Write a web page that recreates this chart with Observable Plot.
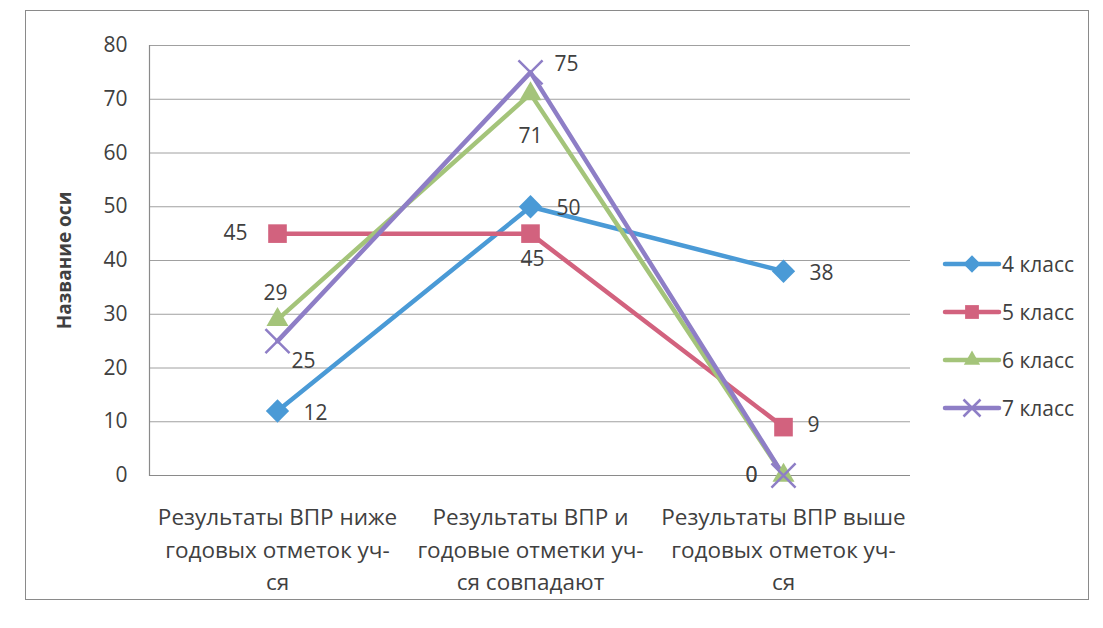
<!DOCTYPE html>
<html><head><meta charset="utf-8">
<script src="https://cdn.jsdelivr.net/npm/d3@7"></script>
<script src="https://cdn.jsdelivr.net/npm/@observablehq/plot@0.6"></script>
<style>
body{margin:0;background:#fff;font-family:"Open Sans",Lato,sans-serif;}
#wrap{position:relative;width:1103px;height:628px;overflow:hidden;}
#frame{position:absolute;left:25px;top:10px;width:1062px;height:588px;border:1.5px solid #8a8a8a;}
#chart{position:absolute;left:0;top:0;}
#legend{position:absolute;left:942px;top:240px;font-size:21px;color:#404040;}
.li{display:flex;align-items:center;height:48px;}
.li svg{margin-right:0px;}
</style></head><body>
<div id="wrap"><div id="frame"></div><div id="chart"></div><div id="legend"></div></div>
<script>
const categories = [
  "Результаты ВПР ниже годовых отметок уч-ся",
  "Результаты ВПР и годовые отметки уч-ся совпадают",
  "Результаты ВПР выше годовых отметок уч-ся"
];
const categoryLines = [
  "Результаты ВПР ниже\nгодовых отметок уч-\nся",
  "Результаты ВПР и\nгодовые отметки уч-\nся совпадают",
  "Результаты ВПР выше\nгодовых отметок уч-\nся"
];
const seriesNames = ["4 класс", "5 класс", "6 класс", "7 класс"];
const values4 = [12, 50, 38];
const values5 = [45, 45, 9];
const values6 = [29, 71, 0];
const values7 = [25, 75, 0];
const yTicks = [0, 10, 20, 30, 40, 50, 60, 70, 80];
const axisTitle = "Название оси";

// styles
const colors = ["#4A9AD6", "#D2627E", "#A4C47A", "#8E7EC6"];
const symbols = ["diamond2", "square", "triangle2", "times"];
const labelOffsets = [
  [[38, 2], [38, 2], [38, 2]],
  [[-42, 0], [2, 26], [30, -2]],
  [[-2, -26], [0, 42], [-32, 0]],
  [[26, 20], [36, -8], [-32, 0]]
];

const allValues = [values4, values5, values6, values7];
const rows = [];
allValues.forEach((vals, s) => vals.forEach((v, i) => rows.push({series: seriesNames[s], cat: categories[i], value: v, s, i})));
const lineMap = new Map(categories.map((c, i) => [c, categoryLines[i]]));
const font = "'Open Sans', Lato, sans-serif";

const labelMarks = rows.map(r => Plot.text([r], {
  x: "cat", y: "value", text: d => String(d.value),
  dx: labelOffsets[r.s][r.i][0], dy: labelOffsets[r.s][r.i][1],
  fontSize: 21, fill: "#404040"
}));

const chart = Plot.plot({
  width: 1103, height: 628,
  marginLeft: 149, marginRight: 193, marginTop: 45, marginBottom: 153,
  style: {fontFamily: font, background: "transparent", color: "#404040"},
  x: {type: "point", domain: categories, padding: 0.5, label: null},
  y: {domain: [0, 80], label: null},
  color: {domain: seriesNames, range: colors},
  symbol: {domain: seriesNames, range: symbols},
  marks: [
    Plot.ruleY(yTicks.filter(d => d > 0), {stroke: "#a0a0a0", strokeWidth: 1}),
    Plot.ruleY([0], {stroke: "#8a8a8a", strokeWidth: 1.2}),
    Plot.frame({anchor: "left", stroke: "#8a8a8a", strokeWidth: 1.2}),
    Plot.axisY({ticks: yTicks, tickSize: 0, tickPadding: 22, fontSize: 21, label: null, fill: "#404040"}),
    Plot.axisX({tickSize: 0, tickPadding: 27, fontSize: 22.5, lineHeight: 1.43, label: null, fill: "#404040",
      tickFormat: d => lineMap.get(d)}),
    Plot.text([axisTitle], {frameAnchor: "left", textAnchor: "middle", dx: -85, rotate: -90, fontSize: 19, fontWeight: "bold", fill: "#404040"}),
    Plot.line(rows, {x: "cat", y: "value", z: "series", stroke: "series", strokeWidth: 4.5}),
    Plot.dot(rows.filter(d => d.s < 3), {x: "cat", y: "value", symbol: "series", fill: "series", r: 10.5}),
    Plot.dot(rows.filter(d => d.s === 3), {x: "cat", y: "value", symbol: "series", stroke: "series", r: 11, strokeWidth: 2.5}),
    ...labelMarks
  ]
});
document.getElementById("chart").appendChild(chart);

// legend
const legend = d3.select("#legend");
const d3sym = {diamond2: d3.symbolDiamond2, square: d3.symbolSquare, triangle2: d3.symbolTriangle2, times: d3.symbolTimes};
seriesNames.forEach((name, k) => {
  const row = legend.append("div").attr("class", "li");
  const svg = row.append("svg").attr("width", 60).attr("height", 24);
  svg.append("line").attr("x1", 3).attr("x2", 57).attr("y1", 12).attr("y2", 12)
    .attr("stroke", colors[k]).attr("stroke-width", 4.5).attr("stroke-linecap", "round");
  const p = svg.append("path").attr("transform", "translate(30,12)")
    .attr("d", d3.symbol(d3sym[symbols[k]], 190)());
  if (k === 3) p.attr("fill", "none").attr("stroke", colors[k]).attr("stroke-width", 2.5);
  else p.attr("fill", colors[k]);
  row.append("span").text(name);
});
</script>
</body></html>
